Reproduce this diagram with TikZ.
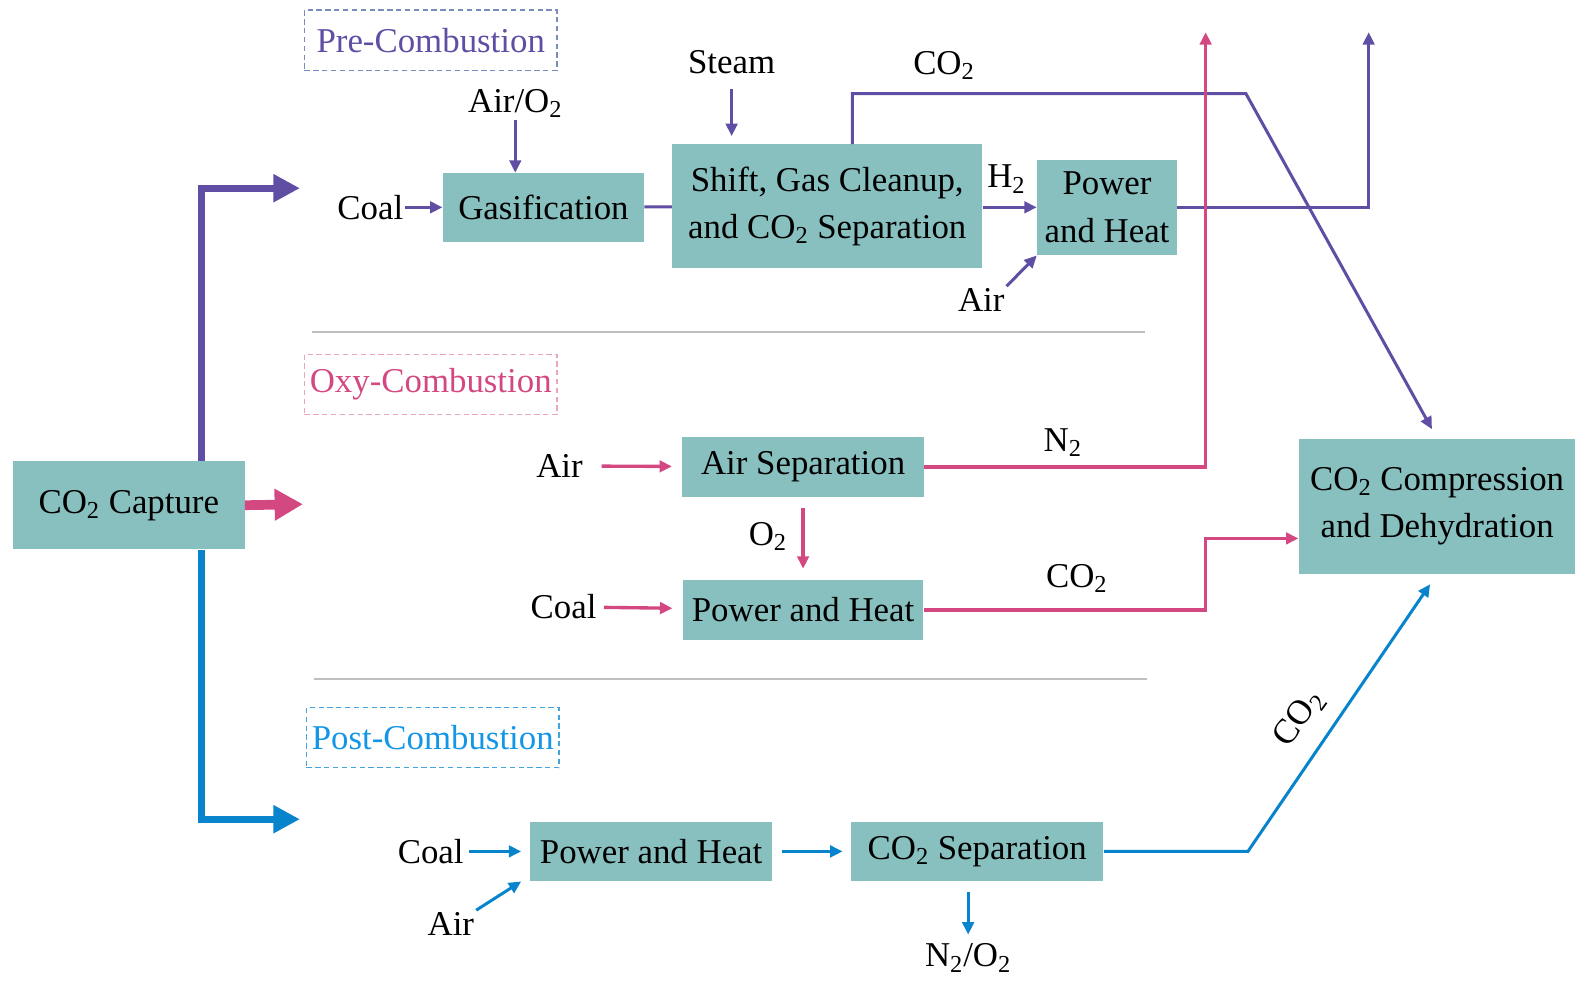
\documentclass[tikz,border=0pt]{standalone}
\usepackage{fontspec}
\setmainfont{Liberation Serif}
\usetikzlibrary{arrows.meta, positioning, calc}
\definecolor{boxteal}{RGB}{136,192,192}
\definecolor{prepurple}{RGB}{96,78,164}
\definecolor{oxypink}{RGB}{212,72,130}
\definecolor{postblue}{RGB}{8,132,204}
\definecolor{posttext}{RGB}{20,150,230}
\definecolor{predash}{RGB}{120,140,190}
\newcommand{\cotwo}{CO\textsubscript{2}}

\begin{document}
\begin{tikzpicture}[x=0.02cm, y=-0.02cm, font=\fontsize{19.7}{26.7}\selectfont, >={Triangle[length=7pt,width=6.5pt]}]
    \tikzset{
        block/.style={rectangle, fill=boxteal, align=center, inner sep=0pt},
        lbl/.style={inner sep=1pt},
        title/.style={rectangle, dash pattern=on 3pt off 2pt, line width=0.7pt, minimum width=5.02cm, minimum height=1.2cm, inner sep=0pt},
        preline/.style={draw=prepurple, line width=1.7pt},
        oxyline/.style={draw=oxypink, line width=1.9pt},
        postline/.style={draw=postblue, line width=1.7pt},
        bigarrow/.style={line width=4pt, -{Triangle[length=15pt,width=15pt]}},
        sepline/.style={draw=gray!50, line width=1.2pt}
    }
    \useasboundingbox (0,0) rectangle (1568,975);

    \node (cap) [block, minimum width=4.6cm, minimum height=1.76cm] at (128,502) {\cotwo{} Capture};
    \node (comp) [block, minimum width=5.5cm, minimum height=2.68cm] at (1428,503) {\cotwo{} Compression\\ and Dehydration};

    % pre-combustion
    \node (pretitle) [title, draw=predash, text=prepurple] at (428,40) {Pre-Combustion};
    \node (coal1) [lbl] at (368,206) {Coal};
    \node (gasif) [block, minimum width=4cm, minimum height=1.36cm] at (540,206) {Gasification};
    \node (airo) [lbl] at (512,103) {Air/O\textsubscript{2}};
    \node (steam) [lbl] at (727,62) {Steam};
    \node (shift) [block, minimum width=6.16cm, minimum height=2.46cm] at (822,205) {Shift, Gas Cleanup,\\ and \cotwo{} Separation};
    \node (pow1) [block, minimum width=2.78cm, minimum height=1.9cm] at (1100,206) {Power\\ and Heat};
    \node (air1) [lbl] at (975,298) {Air};
    \node (h2) [lbl] at (1000,178) {H\textsubscript{2}};
    \node (co2a) [lbl] at (938,65) {\cotwo};
    \coordinate (co2top) at (847,93);
    \coordinate (co2knee) at (1238,93);
    \coordinate (outA) at (1198,32);
    \coordinate (outB) at (1360,32);

    \draw[preline, ->] (coal1) -- (gasif);
    \draw[preline, ->] (airo.south) -- (airo.south |- gasif.north);
    \draw[preline] (gasif) -- (shift);
    \draw[preline, ->, shorten <=7pt, shorten >=4.5pt] (steam.south) -- (steam.south |- shift.north);
    \draw[preline, ->] (shift.east |- pow1.west) -- (pow1.west);
    \draw[preline, ->] (air1.north east) -- (pow1.south west);
    \draw[preline, ->, shorten >=6pt] (co2top |- shift.north) -- (co2top) -- (co2knee) -- (comp.north);
    \draw[preline, ->] (pow1.east) -| (outB);

    \draw[sepline] (310,330) -- (1138,330);

    % oxy-combustion
    \node (oxytitle) [title, draw=oxypink!50, text=oxypink] at (428,382) {Oxy-Combustion};
    \node (air2) [lbl] at (556,463) {Air};
    \node (airsep) [block, minimum width=4.8cm, minimum height=1.2cm] at (798,464) {Air Separation};
    \node (o2) [lbl] at (763,533) {O\textsubscript{2}};
    \node (coal2) [lbl] at (560,603) {Coal};
    \node (pwr2) [block, minimum width=4.78cm, minimum height=1.2cm] at (798,606) {Power and Heat};
    \node (n2) [lbl] at (1056,440) {N\textsubscript{2}};
    \node (co2b) [lbl] at (1070,575) {\cotwo};
    \coordinate (oxyknee) at (1198,535);

    \draw[oxyline, ->, shorten <=9.5pt, shorten >=5.7pt] (air2) -- (airsep);
    \draw[oxyline, ->, shorten <=3pt, shorten >=5.7pt] (coal2) -- (pwr2);
    \draw[oxyline, ->, shorten <=6pt, shorten >=6pt] (airsep.south) -- (pwr2.north);
    \draw[oxyline, ->] (airsep.east) -| (outA);
    \draw[oxyline, ->] (pwr2.east) -| (oxyknee) -- (oxyknee -| comp.west);

    \draw[sepline] (312,675) -- (1140,675);

    % post-combustion
    \node (posttitle) [title, draw=postblue!75, text=posttext] at (430,733) {Post-Combustion};
    \node (coal3) [lbl] at (428,846) {Coal};
    \node (pwr3) [block, minimum width=4.8cm, minimum height=1.18cm] at (647,846) {Power and Heat};
    \node (sep3) [block, minimum width=5.02cm, minimum height=1.18cm] at (971,846) {\cotwo{} Separation};
    \node (air3) [lbl] at (448,918) {Air};
    \node (n2o2) [lbl] at (962,952) {N\textsubscript{2}/O\textsubscript{2}};
    \node (co2c) [lbl, rotate=54] at (1291,714) {\cotwo};
    \coordinate (postknee) at (1240,846);

    \draw[postline, ->, shorten <=2pt, shorten >=5pt] (coal3) -- (pwr3);
    \draw[postline, ->, shorten <=5.7pt, shorten >=4.5pt] (pwr3) -- (sep3);
    \draw[postline, ->] (air3.north east) -- ([xshift=-5pt]pwr3.south west);
    \draw[postline, ->, shorten <=5.7pt, shorten >=4pt] (n2o2.north |- sep3.south) -- (n2o2.north);
    \draw[postline, ->, shorten >=7pt] (sep3.east) -- (postknee) -- (comp.south);

    % branches from capture
    \coordinate (trunk) at (200,502);
    \coordinate (preend) at (298,187);
    \coordinate (oxyend) at (301,501);
    \coordinate (postend) at (298,814);
    \draw[bigarrow, prepurple] (trunk |- cap.north) |- (preend);
    \draw[bigarrow, oxypink, line width=5.5pt, -{Triangle[length=16pt,width=17pt]}] (cap.east) -- (oxyend);
    \draw[bigarrow, postblue] (trunk |- cap.south) |- (postend);

\end{tikzpicture}
\end{document}
